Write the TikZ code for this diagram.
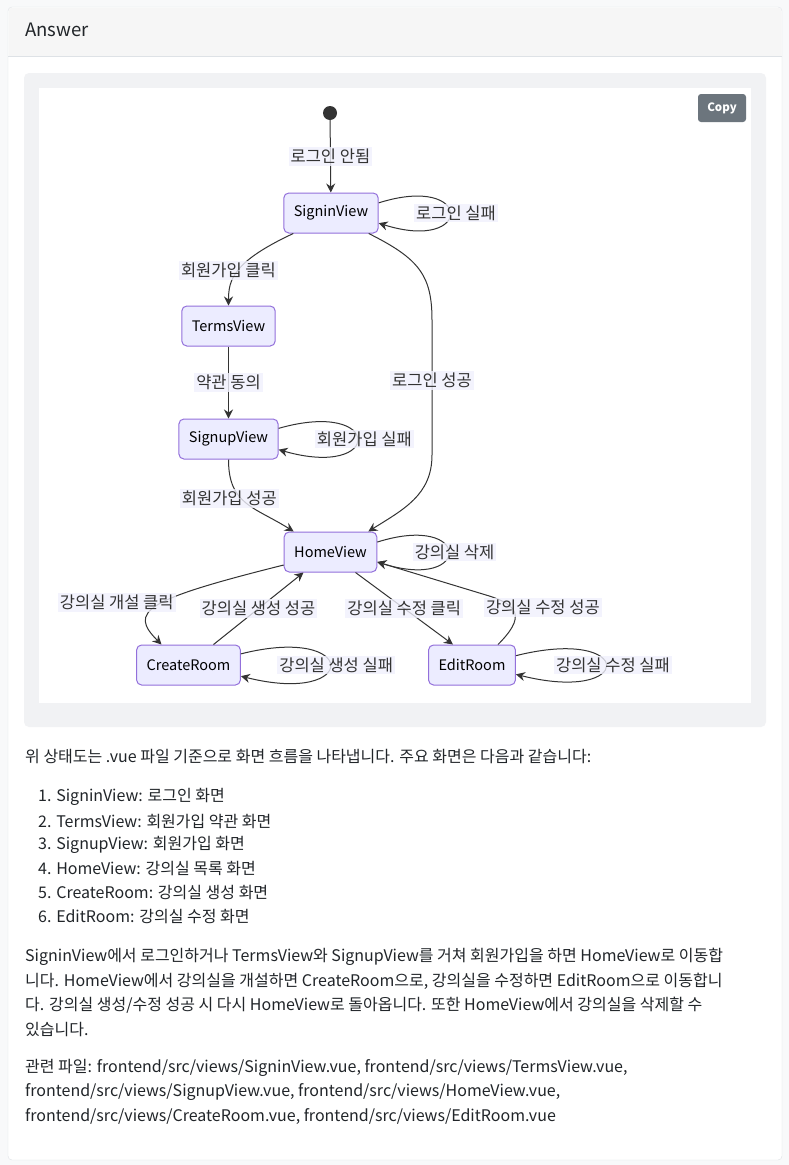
\documentclass[tikz,border=0pt]{standalone}
\usepackage{fontspec}
\setmainfont{Noto Sans CJK KR}
\usetikzlibrary{arrows.meta,positioning}

\definecolor{stfill}{HTML}{ECECFF}
\definecolor{stline}{HTML}{9370DB}
\definecolor{edgecol}{HTML}{333333}
\definecolor{lblbg}{HTML}{F1F1FD}
\definecolor{pagebg}{HTML}{F8F9FA}
\definecolor{cardline}{HTML}{DEE2E6}
\definecolor{headbg}{HTML}{F6F6F6}
\definecolor{codebg}{HTML}{F1F2F4}
\definecolor{btnbg}{HTML}{6C757D}
\definecolor{bodytext}{HTML}{212529}

\begin{document}
\begin{tikzpicture}[
    x=1pt, y=-1pt,
    font=\fontsize{14.5}{16}\selectfont,
    state/.style={draw=stline, fill=stfill, line width=1pt, rounded corners=5pt, minimum height=40pt, inner xsep=10pt, text=black},
    lbl/.style={fill=lblbg, fill opacity=0.8, text opacity=1, text=edgecol, inner sep=2pt, font=\fontsize{16.5}{18}\selectfont},
    arrow/.style={-{Stealth[length=9pt, width=9pt, inset=3pt]}, draw=edgecol, line width=1pt},
    para/.style={anchor=west, inner sep=0pt, text=bodytext, font=\fontsize{16}{19}\selectfont}
]
\useasboundingbox (0,0) rectangle (789,1165);
\fill[pagebg] (0,0) rectangle (789,1165);

% card with header
\draw[cardline, fill=white, rounded corners=4pt] (8,7) rectangle (782,1160);
\fill[headbg] (8.5,56) [rounded corners=4pt] -- (8.5,7.5) -- (781.5,7.5) [sharp corners] -- (781.5,56) -- cycle;
\draw[cardline] (8,56) -- (782,56);
\node[anchor=west, inner sep=0pt, text=bodytext, font=\fontsize{18.5}{21}\selectfont] (title) at (25,30) {Answer};

% diagram frame
\fill[codebg, rounded corners=5pt] (24,73) rectangle (766,727);
\fill[white] (39,88) rectangle (751,703);
\node[fill=btnbg, rounded corners=3pt, text=white, minimum width=48pt, minimum height=28pt, font=\fontsize{11.5}{13}\selectfont\bfseries] (copy) at (722,108) {Copy};

% states
\node[circle, fill=edgecol, minimum size=14pt, inner sep=0pt] (start) at (330,113) {};
\node[state] (signin) at (331,213) {SigninView};
\node[state] (terms) at (228.5,326) {TermsView};
\node[state] (signup) at (228.5,439) {SignupView};
\node[state] (home) at (330.5,552) {HomeView};
\node[state] (create) at (188.5,665) {CreateRoom};
\node[state] (edit) at (472,665) {EditRoom};

% transitions
\draw[arrow] (start) -- node[lbl]{로그인 안됨} (signin);
\draw[arrow] (signin.12) .. controls +(95,-30) and +(95,30) .. node[lbl, xshift=6pt]{로그인 실패} (signin.-12);
\draw[arrow] ([xshift=10pt]signin.south west) .. controls +(-60,28) and +(0,-26) .. node[lbl, xshift=-10pt]{회원가입 클릭} (terms.north);
\draw[arrow] ([xshift=-10pt]signin.south east) .. controls +(50,25) and +(0,-45) .. (432,320)
    -- node[lbl, pos=0.45]{로그인 성공} (432,455)
    .. controls +(0,40) and +(35,-22) .. ([xshift=-9pt]home.north east);
\draw[arrow] (terms) -- node[lbl]{약관 동의} (signup);
\draw[arrow] (signup.12) .. controls +(105,-30) and +(105,30) .. node[lbl, xshift=7pt]{회원가입 실패} (signup.-12);
\draw[arrow] (signup.south) .. controls +(0,45) and +(-40,-25) .. node[lbl, pos=0.35, xshift=-8pt, yshift=-5pt]{회원가입 성공} ([xshift=10pt]home.north west);
\draw[arrow] (home.12) .. controls +(95,-30) and +(95,30) .. node[lbl, xshift=6pt]{강의실 삭제} (home.-12);
\draw[arrow] ([yshift=-13pt]home.west) .. controls +(-140,35) and +(-33,-33) .. node[lbl, pos=0.5, xshift=-41pt, yshift=3pt]{강의실 개설 클릭} ([xshift=-27pt]create.north);
\draw[arrow] ([xshift=25pt]create.north) -- node[lbl]{강의실 생성 성공} ([xshift=-27pt]home.south);
\draw[arrow] ([xshift=25pt]home.south) -- node[lbl]{강의실 수정 클릭} ([xshift=-19pt]edit.north);
\draw[arrow] ([xshift=26pt]edit.north) .. controls +(27,-27) and +(34,10) .. node[lbl, pos=0.5, xshift=28pt, yshift=6pt]{강의실 수정 성공} (486,595)
    -- ([yshift=-10pt]home.east);
\draw[arrow] (create.12) .. controls +(119,-30) and +(119,30) .. node[lbl, xshift=6pt]{강의실 생성 실패} (create.-12);
\draw[arrow] (edit.12) .. controls +(120,-30) and +(120,30) .. node[lbl, xshift=7pt]{강의실 수정 실패} (edit.-12);

% answer text
\node[para] (intro) at (25,757) {위 상태도는 .vue 파일 기준으로 화면 흐름을 나타냅니다. 주요 화면은 다음과 같습니다:};
\foreach \ypos/\item in {797/1. SigninView: 로그인 화면, 821/2. TermsView: 회원가입 약관 화면, 845/3. SignupView: 회원가입 화면, 869/4. HomeView: 강의실 목록 화면, 893/5. CreateRoom: 강의실 생성 화면, 917/6. EditRoom: 강의실 수정 화면}
    \node[para] at (38,\ypos) {\item};

\node[para] (p1) at (25,957) {SigninView에서 로그인하거나 TermsView와 SignupView를 거쳐 회원가입을 하면 HomeView로 이동합};
\node[para] (p2) at (25,981) {니다. HomeView에서 강의실을 개설하면 CreateRoom으로, 강의실을 수정하면 EditRoom으로 이동합니};
\node[para] (p3) at (25,1005) {다. 강의실 생성/수정 성공 시 다시 HomeView로 돌아옵니다. 또한 HomeView에서 강의실을 삭제할 수};
\node[para] (p4) at (25,1030) {있습니다.};
\node[para] (f1) at (25,1068) {관련 파일: frontend/src/views/SigninView.vue, frontend/src/views/TermsView.vue,};
\node[para] (f2) at (25,1092) {frontend/src/views/SignupView.vue, frontend/src/views/HomeView.vue,};
\node[para] (f3) at (25,1117) {frontend/src/views/CreateRoom.vue, frontend/src/views/EditRoom.vue};
\end{tikzpicture}
\end{document}
